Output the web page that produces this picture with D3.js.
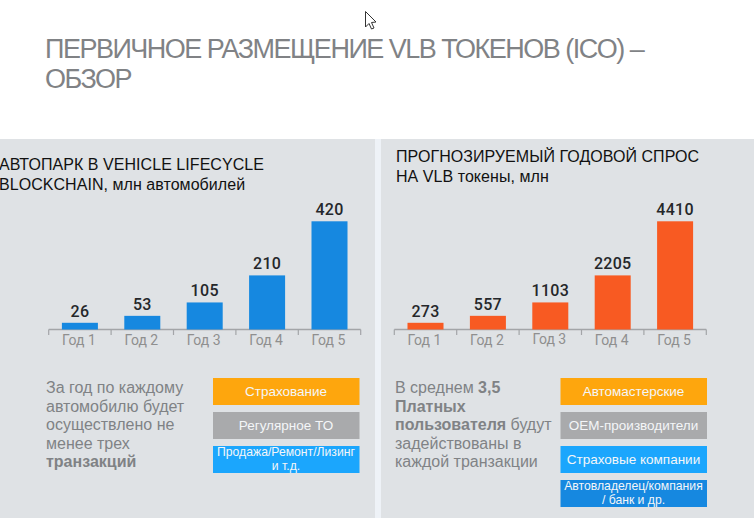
<!DOCTYPE html>
<html>
<head>
<meta charset="utf-8">
<script src="https://cdn.jsdelivr.net/npm/d3@7"></script>
<style>
html, body { margin: 0; padding: 0; background: #fff; overflow: hidden; }
svg { display: block; }
</style>
</head>
<body>
<svg id="chart" width="754" height="518"></svg>
<script>
// data
const years = ['Год 1', 'Год 2', 'Год 3', 'Год 4', 'Год 5'];
const fleetValues = [26, 53, 105, 210, 420];
const demandValues = [273, 557, 1103, 2205, 4410];
const mainTitle = ['ПЕРВИЧНОЕ РАЗМЕЩЕНИЕ VLB ТОКЕНОВ (ICO) –', 'ОБЗОР'];
const fleetTitle = ['АВТОПАРК В VEHICLE LIFECYCLE', 'BLOCKCHAIN, млн автомобилей'];
const demandTitle = ['ПРОГНОЗИРУЕМЫЙ ГОДОВОЙ СПРОС', 'НА VLB токены, млн'];
const fleetNote = [['За год по каждому'], ['автомобилю будет'], ['осуществлено не'], ['менее трех'], ['*транзакций']];
const demandNote = [['В среднем ', '*3,5'], ['*Платных'], ['*пользователя', ' будут'], ['задействованы в'], ['каждой транзакции']];
const fleetBoxes = [
    {lines: ['Страхование'], color: '#fea60d'},
    {lines: ['Регулярное ТО'], color: '#a9aaac'},
    {lines: ['Продажа/Ремонт/Лизинг', 'и т.д.'], color: '#1ba6fd', small: true}
];
const demandBoxes = [
    {lines: ['Автомастерские'], color: '#fea60d'},
    {lines: ['ОЕМ-производители'], color: '#a9aaac'},
    {lines: ['Страховые компании'], color: '#1ba6fd'},
    {lines: ['Автовладелец/компания', '/ банк и др.'], color: '#1688e0', small: true}
];

const svg = d3.select('#chart');
const sans = '"Liberation Sans", Arial, sans-serif';

// panels
svg.append('rect').attr('x', 0).attr('y', 139).attr('width', 754).attr('height', 379).attr('fill', '#eef2f7');
svg.append('rect').attr('x', 0).attr('y', 139).attr('width', 375).attr('height', 379).attr('fill', '#dfe2e5');
svg.append('rect').attr('x', 381).attr('y', 139).attr('width', 373).attr('height', 379).attr('fill', '#dfe2e5');

// main title
svg.append('g').selectAll('text').data(mainTitle).join('text')
    .attr('x', 45)
    .attr('y', (d, i) => 58 + i * 30)
    .attr('font-family', sans)
    .attr('font-size', 27)
    .attr('letter-spacing', -1.5)
    .attr('fill', '#808285')
    .text(d => d);

function drawPanel(cfg) {
    const x = d3.scaleBand().domain(years).range([cfg.x0, cfg.x0 + 312]).paddingInner(0.423).paddingOuter(0.2115);
    const y = d3.scaleLinear().domain([0, d3.max(cfg.values)]).range([329.5, 221.3]);
    const g = svg.append('g');

    // heading
    g.append('g').selectAll('text').data(cfg.title).join('text')
        .attr('x', cfg.titleX)
        .attr('y', (d, i) => cfg.titleY + i * 19.5)
        .attr('font-family', sans)
        .attr('font-size', 16)
        .attr('letter-spacing', 0.05)
        .attr('fill', '#111')
        .text(d => d);

    // axis line and ticks
    const slot = x.step();
    const edges = d3.range(years.length + 1).map(i => cfg.x0 + i * slot);
    g.append('line')
        .attr('x1', cfg.x0).attr('x2', cfg.x0 + 312)
        .attr('y1', 329.5).attr('y2', 329.5)
        .attr('stroke', '#a3a5a8').attr('stroke-width', 1.5);
    g.append('g').selectAll('line').data(edges).join('line')
        .attr('x1', d => d).attr('x2', d => d)
        .attr('y1', 329.5).attr('y2', 335)
        .attr('stroke', '#a3a5a8').attr('stroke-width', 1.2);

    // bars
    g.append('g').selectAll('rect').data(cfg.values).join('rect')
        .attr('x', (d, i) => x(years[i]))
        .attr('y', d => y(d))
        .attr('width', x.bandwidth())
        .attr('height', d => y(0) - y(d))
        .attr('fill', cfg.color);

    // value labels
    g.append('g').selectAll('text').data(cfg.values).join('text')
        .attr('x', (d, i) => x(years[i]) + x.bandwidth() / 2)
        .attr('y', d => y(d) - 6)
        .attr('text-anchor', 'middle')
        .attr('font-family', 'Roboto, sans-serif')
        .attr('font-weight', 500)
        .attr('font-size', 16)
        .attr('letter-spacing', 0.3)
        .attr('fill', '#25272a')
        .text(d => d);

    // year labels
    g.append('g').selectAll('text').data(years).join('text')
        .attr('x', d => x(d) + x.bandwidth() / 2 - 1)
        .attr('y', (d, i) => 345 + cfg.labelShift[i])
        .attr('text-anchor', 'middle')
        .attr('font-family', 'Roboto, sans-serif')
        .attr('font-size', 14)
        .attr('fill', '#8f8f8f')
        .text(d => d);

    // note with bold parts marked by a leading *
    const note = g.append('g').selectAll('text').data(cfg.note).join('text')
        .attr('x', cfg.noteX)
        .attr('y', (d, i) => 393 + i * 18.5)
        .attr('font-family', sans)
        .attr('font-size', 16)
        .attr('fill', '#808285');
    note.selectAll('tspan').data(d => d).join('tspan')
        .attr('font-weight', d => d[0] === '*' ? 700 : 400)
        .text(d => d.replace('*', ''));

    // coloured boxes
    const box = g.append('g').selectAll('g').data(cfg.boxes).join('g')
        .attr('transform', (d, i) => `translate(${cfg.boxX},${378 + i * 34})`);
    box.append('rect')
        .attr('width', 146.5).attr('height', 27)
        .attr('fill', d => d.color);
    box.selectAll('text').data(d => d.lines.map(t => ({t, n: d.lines.length, small: d.small}))).join('text')
        .attr('x', 73)
        .attr('y', (d, i) => d.n === 1 ? 17.5 : 10 + i * 14)
        .attr('text-anchor', 'middle')
        .attr('font-family', sans)
        .attr('font-size', d => d.small ? 12.2 : 13.5)
        .attr('fill', '#f4f6f8')
        .text(d => d.t);
}

drawPanel({
    x0: 48.7, values: fleetValues, color: '#1688e0', title: fleetTitle, titleX: -1, titleY: 170,
    note: fleetNote, noteX: 46, boxes: fleetBoxes, boxX: 213, labelShift: [0, 0, 0, 0, 0]
});
drawPanel({
    x0: 394.3, values: demandValues, color: '#f85a22', title: demandTitle, titleX: 396, titleY: 162,
    note: demandNote, noteX: 395, boxes: demandBoxes, boxX: 560.5, labelShift: [0, 0, -1, 0, 0]
});

// mouse pointer caught in the screenshot
svg.append('path')
    .attr('d', 'M365.5 11.5 V27 L369 23.5 L371.5 29 L374 28 L371.5 22.5 L376 22 Z')
    .attr('fill', '#fff').attr('stroke', '#333').attr('stroke-width', 1);
</script>
</body>
</html>
